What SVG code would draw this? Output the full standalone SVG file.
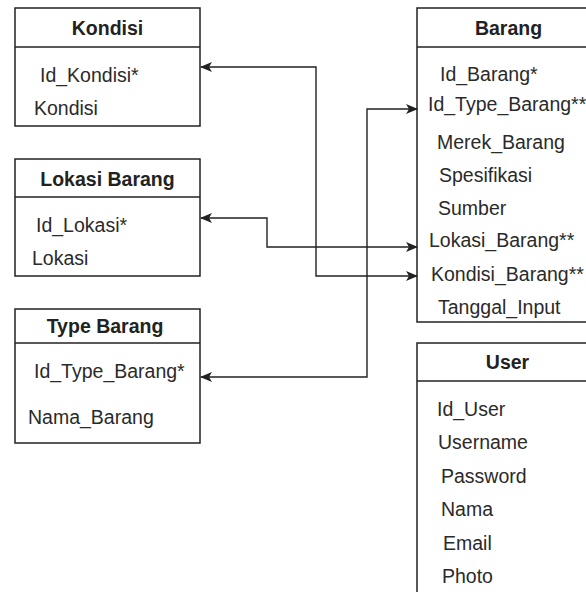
<svg xmlns="http://www.w3.org/2000/svg" width="586" height="592" viewBox="0 0 586 592">
  <style>
    .box { fill: #ffffff; stroke: #222222; stroke-width: 1.5; }
    .sep { stroke: #222222; stroke-width: 1.5; }
    .title { font-family: "Liberation Sans", Arial, sans-serif; font-size: 19.5px; font-weight: bold; fill: #222222; text-anchor: middle; }
    .field { font-family: "Liberation Sans", Arial, sans-serif; font-size: 19.5px; fill: #2a2a2a; }
    .link { fill: none; stroke: #222222; stroke-width: 1.4; }
  </style>
  <defs>
    <marker id="arrow" viewBox="0 0 12 10" refX="11" refY="5" markerWidth="12" markerHeight="10" markerUnits="userSpaceOnUse" orient="auto-start-reverse">
      <path d="M0,0 L12,5 L0,10 L3,5 Z" fill="#222222"/>
    </marker>
  </defs>
  <rect width="586" height="592" fill="#ffffff"/>

  <!-- Kondisi table -->
  <g id="kondisi">
    <rect class="box" x="15" y="8" width="185" height="118"/>
    <line class="sep" x1="15" y1="47" x2="200" y2="47"/>
    <text class="title" x="107.5" y="35">Kondisi</text>
    <text class="field" x="40" y="82">Id_Kondisi*</text>
    <text class="field" x="34" y="115">Kondisi</text>
  </g>

  <!-- Lokasi Barang table -->
  <g id="lokasi-barang">
    <rect class="box" x="15" y="159" width="185" height="117"/>
    <line class="sep" x1="15" y1="197" x2="200" y2="197"/>
    <text class="title" x="107.5" y="186">Lokasi Barang</text>
    <text class="field" x="36" y="232">Id_Lokasi*</text>
    <text class="field" x="32" y="265">Lokasi</text>
  </g>

  <!-- Type Barang table -->
  <g id="type-barang">
    <rect class="box" x="15" y="309" width="185" height="134"/>
    <line class="sep" x1="15" y1="343" x2="200" y2="343"/>
    <text class="title" x="105" y="333">Type Barang</text>
    <text class="field" x="34" y="378">Id_Type_Barang*</text>
    <text class="field" x="28" y="424">Nama_Barang</text>
  </g>

  <!-- Barang table -->
  <g id="barang">
    <rect class="box" x="417" y="8" width="183" height="314"/>
    <line class="sep" x1="417" y1="47" x2="600" y2="47"/>
    <text class="title" x="508.5" y="35">Barang</text>
    <text class="field" x="440" y="81">Id_Barang*</text>
    <text class="field" x="428" y="111">Id_Type_Barang**</text>
    <text class="field" x="437" y="149">Merek_Barang</text>
    <text class="field" x="439" y="182">Spesifikasi</text>
    <text class="field" x="438" y="215">Sumber</text>
    <text class="field" x="429" y="247">Lokasi_Barang**</text>
    <text class="field" x="431" y="281">Kondisi_Barang**</text>
    <text class="field" x="438" y="314">Tanggal_Input</text>
  </g>

  <!-- User table -->
  <g id="user">
    <rect class="box" x="417" y="343" width="183" height="260"/>
    <line class="sep" x1="417" y1="381" x2="600" y2="381"/>
    <text class="title" x="507.5" y="369">User</text>
    <text class="field" x="437" y="416">Id_User</text>
    <text class="field" x="438" y="449">Username</text>
    <text class="field" x="441" y="483">Password</text>
    <text class="field" x="441" y="516">Nama</text>
    <text class="field" x="443" y="550">Email</text>
    <text class="field" x="442" y="583">Photo</text>
  </g>

  <!-- Relations -->
  <g id="connectors">
    <path class="link" d="M201,67 H316 V276 H417" marker-start="url(#arrow)" marker-end="url(#arrow)"/>
    <path class="link" d="M201,218 H267 V247 H417" marker-start="url(#arrow)" marker-end="url(#arrow)"/>
    <path class="link" d="M201,377 H367 V109 H417" marker-start="url(#arrow)" marker-end="url(#arrow)"/>
  </g>
</svg>
